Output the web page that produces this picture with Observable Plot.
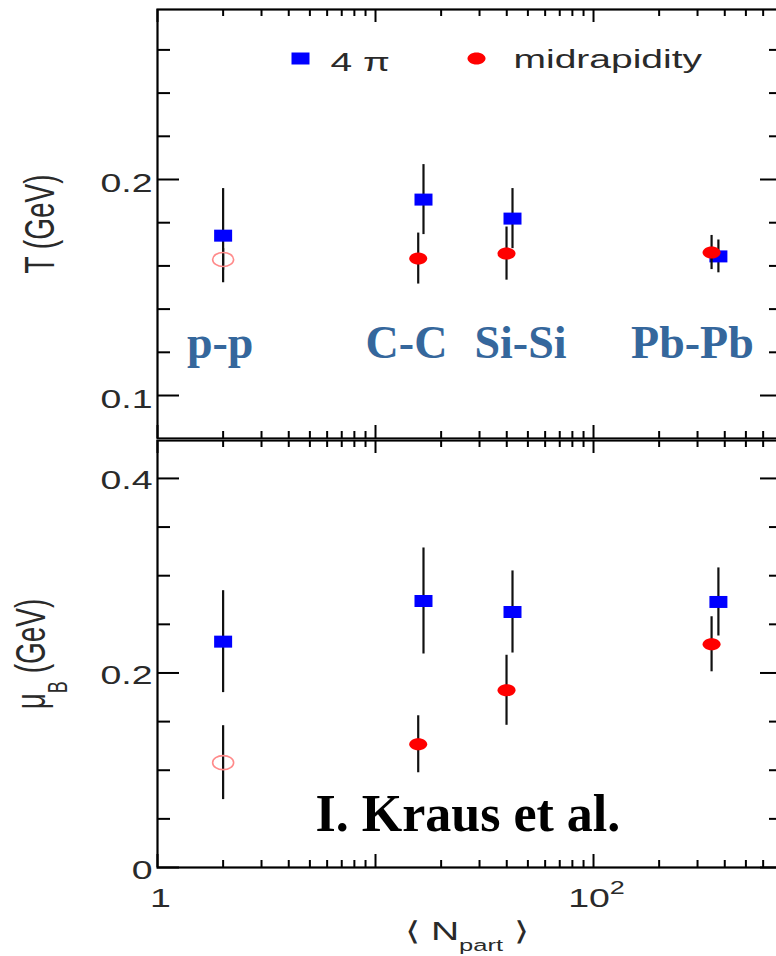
<!DOCTYPE html>
<html><head><meta charset="utf-8">
<script src="https://cdn.jsdelivr.net/npm/d3@7"></script>
<script src="https://cdn.jsdelivr.net/npm/@observablehq/plot@0.6"></script>
<style>
html,body{margin:0;padding:0;background:#fff;overflow:hidden;}
#chart{width:776px;height:956px;overflow:hidden;}
#chart svg{display:block;overflow:hidden;}
</style></head><body><div id="chart"></div>
<script>
// ---------- data ----------
const systems   = ["p-p", "C-C", "Si-Si", "Pb-Pb"];
const npart4pi  = [2.0, 16.6, 42.5, 374];
const npartMid  = [2.0, 15.7, 39.9, 348];
const T4pi      = [0.174, 0.1907, 0.1819, 0.1644];
const T4piErr   = [0.0218, 0.0162, 0.0139, 0.0076];
const TMid      = [0.163, 0.1634, 0.1657, 0.1662];
const TMidErr   = [0.005, 0.0118, 0.0123, 0.0079];
const muB4pi    = [0.2322, 0.274, 0.2627, 0.273];
const muB4piErr = [0.0524, 0.0545, 0.0422, 0.035];
const muBMid    = [0.1078, 0.1267, 0.1822, 0.2295];
const muBMidErr = [0.038, 0.0293, 0.036, 0.0283];
const midOpen   = [true, false, false, false];
const legendLabels = ["4 π", "midrapidity"];
const xMajorTicks = [1, 10, 100];
const xMinorTicks = [2,3,4,5,6,7,8,9,20,30,40,50,60,70,80,90,200,300,400,500,600,700];
const xTickValues = [1, 100];
const xTickLabels = [["1", "", ""], ["10", "2", ""]];
const tMajorTicks = [0.1, 0.2];
const tMinorTicks = [0.12, 0.14, 0.16, 0.18, 0.22, 0.24, 0.26];
const muMajorTicks = [0, 0.2, 0.4];
const muMinorTicks = [0.05, 0.1, 0.15, 0.25, 0.3, 0.35];
const yTitleT  = ["T (GeV)"];
const yTitleMu = ["μ", "B", " (GeV)"];
const xTitle   = ["⟨ N", "part", " ⟩"];
const credit   = "I. Kraus et al.";

// ---------- layout / style ----------
const W = 776, ML = 157, MR = -6;
const frameW = W - MR - ML;
const xDomain = [1, 736];
const SANS = "Liberation Sans, Arial, Helvetica, sans-serif";
const SERIF = "Liberation Serif, Times New Roman, Times, serif";
const TXT = "#2a2a2a";
const BLUE = "#0000ff", RED = "#ff0000", OPENRED = "#ff8a8a";
const LABELBLUE = "#35679c";
const labelDx = {"p-p": -3, "C-C": -17, "Si-Si": 8, "Pb-Pb": -26};

const rows4pi = systems.map((s, i) => ({system: s, n: npart4pi[i], T: T4pi[i], Te: T4piErr[i], mu: muB4pi[i], mue: muB4piErr[i]}));
const rowsMid = systems.map((s, i) => ({system: s, n: npartMid[i], T: TMid[i], Te: TMidErr[i], mu: muBMid[i], mue: muBMidErr[i], open: midOpen[i]}));

const rectSymbol = {draw(ctx, size) {
  const r = Math.sqrt(size / Math.PI), w = 1.5 * r, h = r;
  ctx.moveTo(-w, -h); ctx.lineTo(w, -h); ctx.lineTo(w, h); ctx.lineTo(-w, h); ctx.closePath();
}};
const ellipseSymbol = {draw(ctx, size) {
  const r = Math.sqrt(size / Math.PI), rx = 1.5 * r, ry = r, k = 0.5523;
  ctx.moveTo(rx, 0);
  ctx.bezierCurveTo(rx, k * ry, k * rx, ry, 0, ry);
  ctx.bezierCurveTo(-k * rx, ry, -rx, k * ry, -rx, 0);
  ctx.bezierCurveTo(-rx, -k * ry, -k * rx, -ry, 0, -ry);
  ctx.bezierCurveTo(k * rx, -ry, rx, -k * ry, rx, 0);
  ctx.closePath();
}};

function tickMarks(major, minor, frameH) {
  const k = {stroke: "#000", strokeWidth: 2};
  return [
    Plot.ruleY(major, {y: d => d, insetRight: frameW - 22, ...k}),
    Plot.ruleY(major, {y: d => d, insetLeft: frameW - 22, ...k}),
    Plot.ruleY(minor, {y: d => d, insetRight: frameW - 13, ...k}),
    Plot.ruleY(minor, {y: d => d, insetLeft: frameW - 13, ...k}),
    Plot.ruleX(xMajorTicks, {x: d => d, insetBottom: frameH - 13, ...k}),
    Plot.ruleX(xMajorTicks, {x: d => d, insetTop: frameH - 13, ...k}),
    Plot.ruleX(xMinorTicks, {x: d => d, insetBottom: frameH - 7, ...k}),
    Plot.ruleX(xMinorTicks, {x: d => d, insetTop: frameH - 7, ...k})
  ];
}

function dataMarks(v, e) {
  return [
    Plot.ruleX(rows4pi, {x: "n", y1: d => d[v] - d[e], y2: d => d[v] + d[e], stroke: "#111", strokeWidth: 2.2}),
    Plot.dot(rows4pi, {x: "n", y: v, symbol: rectSymbol, r: 6, fill: BLUE, stroke: "none"}),
    Plot.ruleX(rowsMid, {x: "n", y1: d => d[v] - d[e], y2: d => d[v] + d[e], stroke: "#111", strokeWidth: 2.2}),
    Plot.dot(rowsMid.filter(d => !d.open), {x: "n", y: v, symbol: ellipseSymbol, r: 6, fill: RED, stroke: "none"}),
    Plot.dot(rowsMid.filter(d => d.open), {x: "n", y: v, symbol: ellipseSymbol, r: 7, fill: "none", stroke: OPENRED, strokeWidth: 1.6})
  ];
}

const fmt = d => String(d);

const topPlot = Plot.plot({
  width: W, height: 439, marginLeft: ML, marginRight: MR, marginTop: 9, marginBottom: 1,
  style: {fontFamily: SANS, background: "white", overflow: "hidden"},
  x: {type: "log", domain: xDomain, axis: null},
  y: {domain: [0.0801, 0.2787], axis: null},
  marks: [
    ...tickMarks(tMajorTicks, tMinorTicks, 429),
    Plot.axisY(tMajorTicks, {anchor: "left", tickSize: 0, tickPadding: 5, fontSize: 25, fill: TXT, dy: 4.5, label: null, tickFormat: fmt}),
    Plot.text(yTitleT, {text: d => d, frameAnchor: "left", rotate: -90, dx: -104, lineAnchor: "bottom", textAnchor: "middle", fontSize: 28, fill: TXT}),
    Plot.dot([legendLabels[0]], {frameAnchor: "top-left", dx: 143, dy: 49, symbol: rectSymbol, r: 6, fill: BLUE, stroke: "none"}),
    Plot.text([legendLabels[0]], {text: d => d, frameAnchor: "top-left", dx: 173, dy: 61, lineAnchor: "bottom", textAnchor: "start", fontSize: 26, fill: TXT}),
    Plot.dot([legendLabels[1]], {frameAnchor: "top-left", dx: 319, dy: 49, symbol: ellipseSymbol, r: 6, fill: RED, stroke: "none"}),
    Plot.text([legendLabels[1]], {text: d => d, frameAnchor: "top-left", dx: 356, dy: 58, lineAnchor: "bottom", textAnchor: "start", fontSize: 26, fill: TXT}),
    ...rows4pi.map(r => Plot.text([r], {x: "n", text: "system", frameAnchor: "bottom", dx: labelDx[r.system], dy: -81,
      lineAnchor: "bottom", textAnchor: "middle", fontSize: 46, fontWeight: "bold", fontFamily: SERIF, fill: LABELBLUE})),
    ...dataMarks("T", "Te"),
    Plot.frame({stroke: "#000", strokeWidth: 2.2})
  ]
});

const bottomPlot = Plot.plot({
  width: W, height: 517, marginLeft: ML, marginRight: MR, marginTop: 1, marginBottom: 89,
  style: {fontFamily: SANS, background: "white", overflow: "hidden"},
  x: {type: "log", domain: xDomain, axis: null},
  y: {domain: [0, 0.439], axis: null},
  marks: [
    ...tickMarks(muMajorTicks, muMinorTicks, 427),
    Plot.axisY(muMajorTicks, {anchor: "left", tickSize: 0, tickPadding: 5, fontSize: 25, fill: TXT, dy: 3, label: null, tickFormat: fmt}),
    Plot.axisX(xTickValues, {anchor: "bottom", tickSize: 0, tickPadding: 22, dx: 3, fontSize: 25, fill: TXT, label: null,
      tickFormat: d => xTickLabels[xTickValues.indexOf(d)].join("")}),
    Plot.text([yTitleMu.join("")], {text: d => d, frameAnchor: "left", rotate: -90, dx: -113, lineAnchor: "bottom", textAnchor: "middle", fontSize: 28, fill: TXT}),
    Plot.text([xTitle.join("")], {text: d => d, frameAnchor: "bottom", dx: -3, dy: 72, lineAnchor: "bottom", textAnchor: "middle", fontSize: 26, fill: TXT}),
    Plot.text([credit], {text: d => d, frameAnchor: "bottom-left", dx: 158, dy: -37, lineAnchor: "bottom", textAnchor: "start",
      fontSize: 52, fontWeight: "bold", fontFamily: SERIF, fill: "#000"}),
    ...dataMarks("mu", "mue"),
    Plot.frame({stroke: "#000", strokeWidth: 2.2})
  ]
});

// ---------- post-processing: stretched sans text, sub/superscripts ----------
function stretchTexts(svg) {
  svg.querySelectorAll("text").forEach(t => {
    const holder = t.closest("[font-family]");
    const fam = holder ? holder.getAttribute("font-family") : "";
    if (fam.indexOf("Liberation Serif") >= 0) return;
    const tr = t.getAttribute("transform") || "";
    const s = /rotate/.test(tr) ? "scale(1,1.5)" : "scale(1.5,1)";
    t.setAttribute("transform", (tr + " " + s).trim());
  });
}
function shiftParts(svg, parts, subSize, shift) {
  const full = parts.join("");
  if (!parts[1]) return;
  const ns = "http://www.w3.org/2000/svg";
  svg.querySelectorAll("text").forEach(t => {
    if (t.textContent !== full) return;
    t.textContent = "";
    const a = document.createElementNS(ns, "tspan"); a.textContent = parts[0];
    const b = document.createElementNS(ns, "tspan"); b.textContent = parts[1];
    b.setAttribute("font-size", subSize); b.setAttribute("dy", shift);
    t.append(a, b);
    if (parts[2]) {
      const c = document.createElementNS(ns, "tspan"); c.textContent = parts[2];
      c.setAttribute("dy", -shift);
      t.append(c);
    }
  });
}
stretchTexts(topPlot);
stretchTexts(bottomPlot);
shiftParts(bottomPlot, yTitleMu, 18, 15);
shiftParts(bottomPlot, xTitle, 17, 11);
xTickLabels.forEach(p => shiftParts(bottomPlot, p, 18, -13));

const chart = document.getElementById("chart");
chart.append(topPlot, bottomPlot);
</script>
</body></html>
